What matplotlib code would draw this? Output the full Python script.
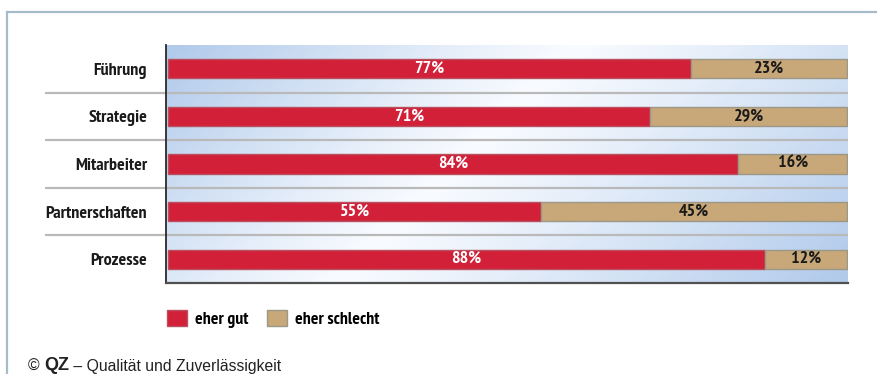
import numpy as np
import matplotlib
matplotlib.use("Agg")
import matplotlib.pyplot as plt
from matplotlib.lines import Line2D
from matplotlib.transforms import blended_transform_factory

categories = ["Führung", "Strategie", "Mitarbeiter", "Partnerschaften", "Prozesse"]
eher_gut = [77, 71, 84, 55, 88]
eher_schlecht = [23, 29, 16, 45, 12]
series_names = ["eher gut", "eher schlecht"]

COND = ["PT Sans Narrow", "Fira Sans Condensed", "Roboto Condensed", "Open Sans Condensed",
        "Barlow Semi Condensed", "DejaVu Sans"]
RED = "#d22039"
TAN = "#c8a878"

W, H = 878, 374
fig = plt.figure(figsize=(W / 100, H / 100), dpi=100)
fig.patch.set_facecolor("white")

L, R, T, B = 166, 848, 45, 283
ax = fig.add_axes([L / W, 1 - B / H, (R - L) / W, (B - T) / H])

y = np.arange(len(categories))
xmin, xmax = -0.25, 100.15
ax.set_xlim(xmin, xmax)
ax.set_ylim(len(categories) - 0.5, -0.5)

# background gradient (styling only)
nx, ny = 400, 140
u = np.linspace(0, 1, nx)
v = np.linspace(0, 1, ny)
U, V = np.meshgrid(u, v)
t = U * (R - L) + V * (B - T)
tw, tmax = 410.0, (R - L) + (B - T)
s = np.where(t < tw, (tw - t) / tw, (t - tw) / (tmax - tw))
s = np.clip(s, 0, 1) ** 1.1
blue = np.array([0.69, 0.79, 0.92])
white = np.array([0.975, 0.985, 1.0])
img = white[None, None, :] + s[..., None] * (blue - white)[None, None, :]
ax.imshow(img, extent=(xmin, xmax, len(categories) - 0.5, -0.5), aspect="auto",
          zorder=0, interpolation="bilinear")

# separators extending left of the axes
tr = blended_transform_factory(fig.transFigure, ax.transData)
for yy in y[:-1] + 0.5:
    ax.plot([45 / W, R / W], [yy, yy], transform=tr, color="#b9b9b9", lw=1.6,
            clip_on=False, zorder=1, solid_capstyle="butt")

h = 0.4
b1 = ax.barh(y, eher_gut, height=h, color=RED, edgecolor="#b9505f", linewidth=1.0,
             label=series_names[0], zorder=3)
b2 = ax.barh(y, eher_schlecht, left=eher_gut, height=h, color=TAN, edgecolor="#9c9888",
             linewidth=1.0, label=series_names[1], zorder=3)

fs = 13
ax.bar_label(b1, labels=[f"{v}%" for v in eher_gut], label_type="center", color="white",
             fontsize=fs, fontweight="bold", family=COND, zorder=4)
ax.bar_label(b2, labels=[f"{v}%" for v in eher_schlecht], label_type="center", color="#1a1a1a",
             fontsize=fs, fontweight="bold", family=COND, zorder=4)

ax.set_yticks(y)
ax.set_yticklabels(categories, fontsize=fs, fontweight="bold", family=COND, color="#1a1a1a")
ax.tick_params(axis="y", length=0, pad=13.5)
ax.set_xticks([])
for side in ["top", "right"]:
    ax.spines[side].set_visible(False)
ax.spines["left"].set_color("#2a2a2a")
ax.spines["left"].set_linewidth(1.3)
ax.spines["bottom"].set_color("#505050")
ax.spines["bottom"].set_linewidth(1.6)
ax.spines["left"].set_zorder(5)
ax.spines["bottom"].set_zorder(5)

# legend
lfs = 12.8
fig.legend(handles=[b1, b2], labels=series_names, loc="center left",
           bbox_to_anchor=(167 / W, 1 - 319 / H), ncol=2, frameon=False,
           borderpad=0, borderaxespad=0, handlelength=20 / (lfs * 1.389),
           handleheight=18 / (lfs * 1.389), handletextpad=0.45, columnspacing=1.05,
           prop={"family": COND, "weight": "bold", "size": lfs})

# frame lines
fig.add_artist(Line2D([7 / W, 7 / W], [0, 1 - 12 / H], transform=fig.transFigure,
                      color="#a6bccb", lw=1.6))
fig.add_artist(Line2D([7 / W, 1], [1 - 12 / H, 1 - 12 / H], transform=fig.transFigure,
                      color="#a6bccb", lw=1.6))

# copyright line
t1 = fig.text(28 / W, 1 - 371 / H, "© ", fontsize=11.3, family="Liberation Sans",
              color="#222222", va="baseline")
a2 = plt.annotate("QZ", xy=(1, 0), xycoords=t1, va="bottom", fontsize=13,
                  family="Liberation Sans", fontweight="bold", color="#222222",
                  annotation_clip=False)
a3 = plt.annotate(" – Qualität und Zuverlässigkeit", xy=(1, 0), xycoords=a2, va="bottom",
                  fontsize=11.3, family="Liberation Sans", color="#222222",
                  annotation_clip=False)

fig.savefig("out.png", dpi=100)
